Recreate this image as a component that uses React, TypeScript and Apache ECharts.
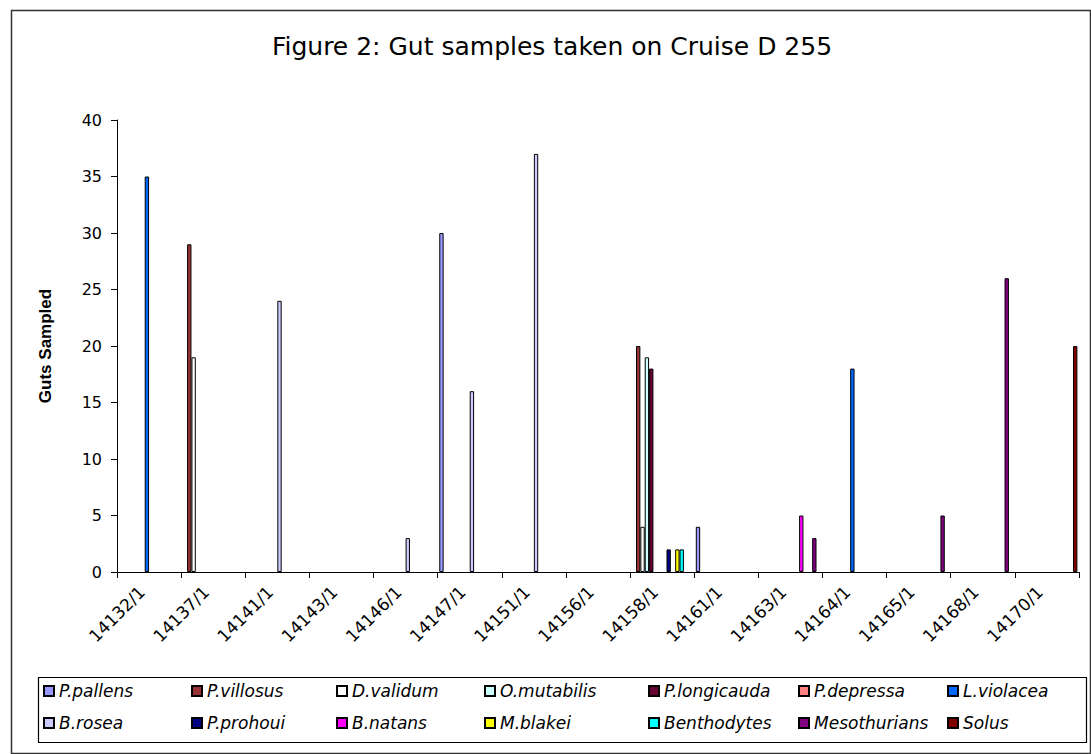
import React, { useEffect, useRef } from "react";
import * as echarts from "echarts";

const categories = [
  "14132/1", "14137/1", "14141/1", "14143/1", "14146/1", "14147/1", "14151/1", "14156/1",
  "14158/1", "14161/1", "14163/1", "14164/1", "14165/1", "14168/1", "14170/1",
];

const seriesNames = [
  "P.pallens", "P.villosus", "D.validum", "O.mutabilis", "P.longicauda", "P.depressa", "L.violacea",
  "B.rosea", "P.prohoui", "B.natans", "M.blakei", "Benthodytes", "Mesothurians", "Solus",
];

const seriesColors = [
  "#9999FF", "#993333", "#FFFFFF", "#CCFFFF", "#660033", "#FF8080", "#0066FF",
  "#CCCCFF", "#000080", "#FF00FF", "#FFFF00", "#00FFFF", "#800080", "#800000",
];

const _ = null;
const pPallens = [_, _, _, _, _, 30, _, _, _, 4, _, _, _, _, _];
const pVillosus = [_, 29, _, _, _, _, _, _, 20, _, _, _, _, _, _];
const dValidum = [_, 19, _, _, _, _, _, _, 4, _, _, _, _, _, _];
const oMutabilis = [_, _, _, _, _, _, _, _, 19, _, _, _, _, _, _];
const pLongicauda = [_, _, _, _, _, _, _, _, 18, _, _, _, _, _, _];
const pDepressa = [_, _, _, _, _, _, _, _, _, _, _, _, _, _, _];
const lViolacea = [35, _, _, _, _, _, _, _, _, _, _, 18, _, _, _];
const bRosea = [_, _, 24, _, 3, 16, 37, _, _, _, _, _, _, _, _];
const pProhoui = [_, _, _, _, _, _, _, _, 2, _, _, _, _, _, _];
const bNatans = [_, _, _, _, _, _, _, _, _, _, 5, _, _, _, _];
const mBlakei = [_, _, _, _, _, _, _, _, 2, _, _, _, _, _, _];
const benthodytes = [_, _, _, _, _, _, _, _, 2, _, _, _, _, _, _];
const mesothurians = [_, _, _, _, _, _, _, _, _, _, 3, _, 5, 26, _];
const solus = [_, _, _, _, _, _, _, _, _, _, _, _, _, _, 20];

const seriesValues = [
  pPallens, pVillosus, dValidum, oMutabilis, pLongicauda, pDepressa, lViolacea,
  bRosea, pProhoui, bNatans, mBlakei, benthodytes, mesothurians, solus,
];

const yTicks = [0, 5, 10, 15, 20, 25, 30, 35, 40];

const legendCols = [43, 191, 336, 484, 648, 798, 947];
const legendRows = [682, 714];

export default function App() {
  const ref = useRef<HTMLDivElement>(null);

  useEffect(() => {
    if (!ref.current) return;
    const chart = echarts.init(ref.current, null, { renderer: "svg" });
    const font = "DejaVu Sans";

    const legends = seriesNames.map((name, i) => ({
      data: [name],
      left: legendCols[i % 7],
      top: legendRows[Math.floor(i / 7)],
      orient: "horizontal",
      icon: "rect",
      itemWidth: 10,
      itemHeight: 10,
      padding: 0,
      selectedMode: false,
      textStyle: {
        fontFamily: font,
        fontStyle: "italic",
        fontSize: 17,
        color: "#000",
        lineHeight: 18,
      },
    }));

    chart.setOption({
      animation: false,
      backgroundColor: "#fff",
      graphic: [
        {
          type: "rect",
          left: 9,
          top: 8,
          shape: { width: 1079, height: 743 },
          style: { fill: "none", stroke: "#333", lineWidth: 1.5 },
          silent: true,
        },
        {
          type: "rect",
          left: 36,
          top: 675,
          shape: { width: 1048, height: 65 },
          style: { fill: "none", stroke: "#000", lineWidth: 1.2 },
          silent: true,
        },
        {
          type: "text",
          x: 552,
          y: 46,
          style: {
            text: "Figure 2: Gut samples taken on Cruise D 255",
            fontFamily: font,
            fontSize: 25,
            fill: "#000",
            align: "center",
            verticalAlign: "middle",
          },
        },
      ],
      legend: legends,
      grid: { left: 117, right: 12, top: 120, bottom: 182 },
      xAxis: {
        type: "category",
        data: categories,
        boundaryGap: true,
        axisLine: { show: true, lineStyle: { color: "#000", width: 1 } },
        axisTick: { show: true, length: 6, lineStyle: { color: "#000" }, interval: 0 },
        axisLabel: {
          interval: 0,
          rotate: 45,
          margin: 10,
          padding: [0, 10, 0, 0],
          fontFamily: font,
          fontSize: 17,
          color: "#000",
        },
        splitLine: { show: false },
      },
      yAxis: {
        type: "value",
        min: yTicks[0],
        max: yTicks[yTicks.length - 1],
        interval: 5,
        name: "Guts Sampled",
        nameLocation: "middle",
        nameRotate: 90,
        nameGap: 63,
        nameTextStyle: {
          fontFamily: "Liberation Sans",
          fontWeight: "bold",
          fontSize: 17,
          color: "#000",
        },
        axisLine: { show: true, lineStyle: { color: "#000", width: 1 } },
        axisTick: { show: true, length: 6, lineStyle: { color: "#000" } },
        axisLabel: {
          margin: 15,
          fontFamily: font,
          fontSize: 16,
          color: "#000",
        },
        splitLine: { show: false },
      },
      series: seriesNames.map((name, i) => ({
        name,
        type: "bar",
        data: seriesValues[i],
        barGap: "0%",
        barCategoryGap: "5%",
        itemStyle: {
          color: seriesColors[i],
          borderColor: "#000",
          borderWidth: 1,
        },
        emphasis: { disabled: true },
      })),
    });

    return () => chart.dispose();
  }, []);

  return (
    <div
      ref={ref}
      style={{ position: "absolute", left: 0, top: 0, width: 1091, height: 754, background: "#fff" }}
    />
  );
}
